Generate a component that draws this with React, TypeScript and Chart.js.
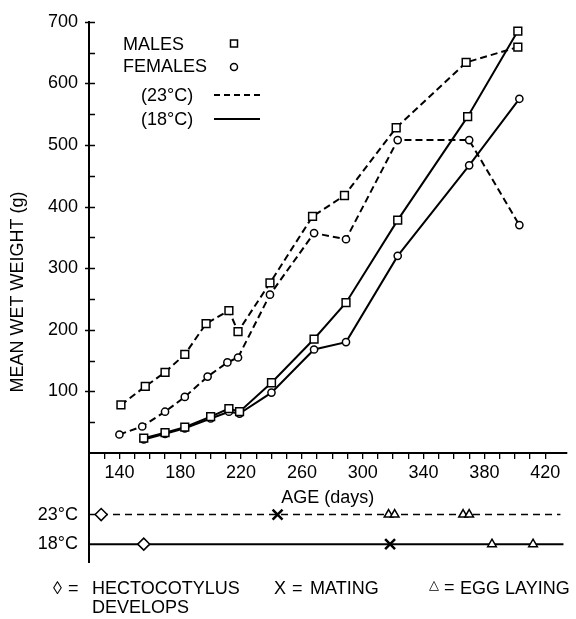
import React, { useEffect, useRef } from 'react';
import { Chart, registerables } from 'chart.js';

Chart.register(...registerables);

// ---- Growth data (age in days, mean wet weight in g) ----
const males23Days = [141, 157, 170, 183, 197, 212, 218, 239, 267, 288, 322, 368, 402];
const males23Weight = [78, 108, 131, 160, 210, 231, 197, 276, 384, 418, 528, 634, 659];
const females23Days = [140, 155, 170, 183, 198, 211, 218, 239, 268, 289, 323, 370, 403];
const females23Weight = [30, 43, 67, 91, 124, 147, 155, 257, 357, 347, 508, 508, 370];
const males18Days = [156, 170, 183, 200, 212, 219, 240, 268, 289, 323, 369, 402];
const males18Weight = [24, 33, 42, 59, 72, 67, 114, 185, 244, 378, 546, 685];
const females18Days = [156, 170, 183, 200, 212, 219, 240, 268, 289, 323, 370, 403];
const females18Weight = [22, 31, 40, 56, 67, 64, 98, 168, 180, 320, 467, 575];

// ---- Life-history events (age in days) ----
const hectocotylus23 = [128];
const mating23 = [244];
const eggLaying23 = [317, 321, 366, 370];
const hectocotylus18 = [156];
const mating18 = [318];
const eggLaying18 = [385, 412];
const timelineStart = 120;
const timeline23End = 430;
const timeline18End = 432;

// rows of the event timeline, expressed on the weight axis below zero
const ROW_23 = -100;
const ROW_18 = -148;

// ---- Axes ----
const ageMin = 120;
const ageMax = 434;
const ageTicks = [130, 140, 150, 160, 170, 180, 190, 200, 210, 220, 230, 240, 250, 260, 270, 280, 290, 300, 310, 320, 330, 340, 350, 360, 370, 380, 390, 400, 410, 420];
const ageLabels = [140, 180, 220, 260, 300, 340, 380, 420];
const weightMin = -177;
const weightMax = 700;
const weightTicks = [50, 100, 150, 200, 250, 300, 350, 400, 450, 500, 550, 600, 650, 700];
const weightLabels = [100, 200, 300, 400, 500, 600, 700];

const FAMILY = "'Liberation Sans', Arial, Helvetica, sans-serif";
const FONT = { family: FAMILY, size: 18 };

const toPoints = (xs: number[], ys: number[]) => xs.map((x, i) => ({ x, y: ys[i] }));
const onRow = (xs: number[], row: number) => xs.map((x) => ({ x, y: row }));

const yTickMarks = {
  id: 'yTickMarks',
  afterDatasetsDraw(chart: any) {
    const { ctx } = chart;
    const y = chart.scales.y;
    const left = chart.chartArea.left;
    ctx.save();
    ctx.strokeStyle = '#000';
    ctx.lineWidth = 1.5;
    weightTicks.forEach((v) => {
      const py = Math.round(y.getPixelForValue(v)) + 0.5;
      const major = weightLabels.includes(v);
      ctx.beginPath();
      ctx.moveTo(left - (major ? 4 : 0), py);
      ctx.lineTo(left + 6, py);
      ctx.stroke();
    });
    ctx.restore();
  },
};

const figureLegends = {
  id: 'figureLegends',
  afterDraw(chart: any) {
    const { ctx } = chart;
    ctx.save();
    ctx.fillStyle = '#000';
    ctx.strokeStyle = '#000';
    ctx.textBaseline = 'middle';
    ctx.textAlign = 'left';
    ctx.font = `18px ${FAMILY}`;

    // top-left key
    ctx.fillText('MALES', 123, 45);
    ctx.fillText('FEMALES', 123, 67);
    ctx.fillText('(23°C)', 141, 96);
    ctx.fillText('(18°C)', 141, 120);
    ctx.lineWidth = 1.5;
    ctx.fillStyle = '#fff';
    ctx.beginPath();
    ctx.rect(230.5, 40, 7, 7);
    ctx.fill();
    ctx.stroke();
    ctx.beginPath();
    ctx.arc(234, 67, 3.5, 0, Math.PI * 2);
    ctx.fill();
    ctx.stroke();
    ctx.lineWidth = 2;
    ctx.setLineDash([6, 4]);
    ctx.beginPath();
    ctx.moveTo(214, 95);
    ctx.lineTo(260, 95);
    ctx.stroke();
    ctx.setLineDash([]);
    ctx.beginPath();
    ctx.moveTo(214, 119);
    ctx.lineTo(260, 119);
    ctx.stroke();

    // bottom key
    ctx.fillStyle = '#000';
    ctx.font = `18px ${FAMILY}`;
    ctx.fillText('◊', 53, 589);
    ctx.fillText('=', 68, 589);
    ctx.fillText('HECTOCOTYLUS', 92, 589);
    ctx.fillText('DEVELOPS', 92, 608);
    ctx.fillText('X', 274, 589);
    ctx.fillText('=', 292, 589);
    ctx.fillText('MATING', 310, 589);
    ctx.font = `13px 'DejaVu Sans', ${FAMILY}`;
    ctx.fillText('△', 429, 586);
    ctx.font = `18px ${FAMILY}`;
    ctx.fillText('=', 444, 588);
    ctx.fillText('EGG LAYING', 460, 589);
    ctx.restore();
  },
};

const growthLine = (data: any[], dashed: boolean, style: string, radius: number) => ({
  data,
  showLine: true,
  borderColor: '#000',
  borderWidth: 2,
  borderDash: dashed ? [7, 4] : [],
  pointStyle: style,
  pointRadius: radius,
  pointBackgroundColor: '#fff',
  pointBorderColor: '#000',
  pointBorderWidth: 1.5,
  fill: false,
  tension: 0,
});

const eventMarks = (data: any[], style: string, radius: number, width: number) => ({
  data,
  showLine: false,
  pointStyle: style,
  pointRadius: radius,
  pointBackgroundColor: '#fff',
  pointBorderColor: '#000',
  pointBorderWidth: width,
});

export default function App() {
  const canvasRef = useRef<HTMLCanvasElement | null>(null);

  useEffect(() => {
    if (!canvasRef.current) return;
    const chart = new Chart(canvasRef.current, {
      type: 'scatter',
      data: {
        datasets: [
          eventMarks(onRow(hectocotylus23, ROW_23), 'rectRot', 6, 1.5),
          eventMarks(onRow(mating23, ROW_23), 'crossRot', 7, 2.5),
          eventMarks(onRow(eggLaying23, ROW_23), 'triangle', 5, 1.5),
          eventMarks(onRow(hectocotylus18, ROW_18), 'rectRot', 6, 1.5),
          eventMarks(onRow(mating18, ROW_18), 'crossRot', 7, 2.5),
          eventMarks(onRow(eggLaying18, ROW_18), 'triangle', 5, 1.5),
          growthLine(toPoints(males23Days, males23Weight), true, 'rect', 5.5),
          growthLine(toPoints(females23Days, females23Weight), true, 'circle', 3.6),
          growthLine(toPoints(males18Days, males18Weight), false, 'rect', 5.5),
          growthLine(toPoints(females18Days, females18Weight), false, 'circle', 3.6),
          {
            data: [{ x: timelineStart, y: ROW_23 }, { x: timeline23End, y: ROW_23 }],
            showLine: true, borderColor: '#000', borderWidth: 1.5, borderDash: [7, 5], pointRadius: 0,
          },
          {
            data: [{ x: timelineStart, y: ROW_18 }, { x: timeline18End, y: ROW_18 }],
            showLine: true, borderColor: '#000', borderWidth: 2, pointRadius: 0,
          },
        ] as any,
      },
      options: {
        animation: false,
        responsive: true,
        maintainAspectRatio: false,
        events: [],
        layout: { padding: { top: 19, right: 9, bottom: 57, left: 0 } },
        plugins: { legend: { display: false }, tooltip: { enabled: false }, title: { display: false } },
        scales: {
          x: {
            type: 'linear',
            min: ageMin,
            max: ageMax,
            position: { y: 0 } as any,
            afterBuildTicks: (s: any) => { s.ticks = ageTicks.map((v) => ({ value: v })); },
            ticks: {
              autoSkip: false,
              maxRotation: 0,
              padding: 4,
              color: '#000',
              font: FONT,
              callback: (v: any) => (ageLabels.includes(Number(v)) ? String(v) : ''),
            },
            grid: { display: true, drawOnChartArea: false, drawTicks: true, tickLength: 5, color: '#000', lineWidth: 1.3 },
            border: { display: true, color: '#000', width: 2 },
            title: { display: true, text: 'AGE (days)', color: '#000', font: FONT, padding: { top: 0, bottom: 0 } },
          },
          y: {
            type: 'linear',
            min: weightMin,
            max: weightMax,
            afterBuildTicks: (s: any) => { s.ticks = [ROW_18, ROW_23, ...weightTicks].map((v) => ({ value: v })); },
            afterFit: (s: any) => { s.width = 89; },
            ticks: {
              autoSkip: false,
              padding: 11,
              color: '#000',
              font: FONT,
              callback: (v: any) => {
                const n = Number(v);
                if (n === ROW_23) return '23°C';
                if (n === ROW_18) return '18°C';
                return weightLabels.includes(n) ? String(n) : '';
              },
            },
            grid: { display: false, drawTicks: false },
            border: { display: true, color: '#000', width: 2 },
            title: { display: true, text: 'MEAN WET WEIGHT (g)', color: '#000', font: FONT, padding: { top: 7, bottom: 0 } },
          },
        },
      } as any,
      plugins: [yTickMarks, figureLegends],
    });
    return () => chart.destroy();
  }, []);

  return (
    <div style={{ position: 'absolute', left: 0, top: 0, width: 576, height: 619, background: '#fff' }}>
      <canvas ref={canvasRef} />
    </div>
  );
}
